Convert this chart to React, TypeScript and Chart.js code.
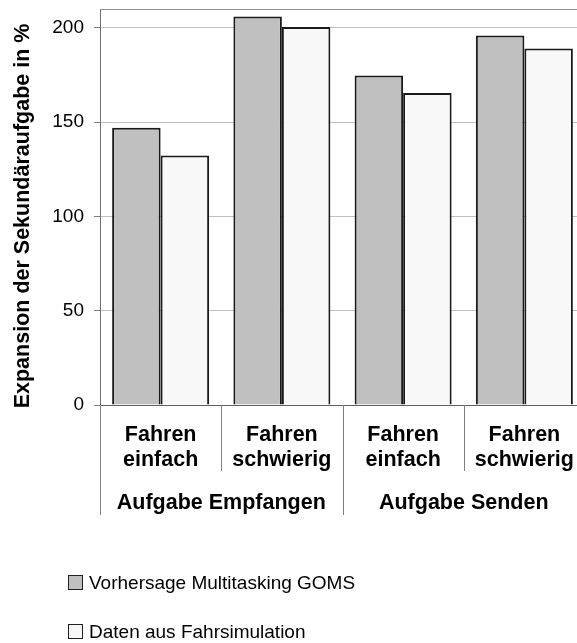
import React, { useEffect, useRef } from "react";
import { Chart, registerables } from "chart.js";

Chart.register(...registerables);

const categoryLabels: string[][] = [
  ["Fahren", "einfach"],
  ["Fahren", "schwierig"],
  ["Fahren", "einfach"],
  ["Fahren", "schwierig"],
];
const groupLabels: string[] = ["Aufgabe Empfangen", "Aufgabe Senden"];
const seriesNames: string[] = ["Vorhersage Multitasking GOMS", "Daten aus Fahrsimulation"];
const gomsValues: number[] = [147, 206, 174.7, 196];
const simValues: number[] = [132.3, 200.5, 165.5, 189];
const yTitle = "Expansion der Sekundäraufgabe in %";
const yMin = 0;
const yMax = 210;
const yStep = 50;

const FONT = "'Liberation Sans', Arial, Helvetica, sans-serif";
const GRAY_FILL = "#c0c0c0";
const WHITE_FILL = "#f8f8f8";
const BAR_BORDER = "#1a1a1a";

const decorPlugin = {
  id: "decor",
  afterDraw(chart: any) {
    const ctx = chart.ctx as CanvasRenderingContext2D;
    const area = chart.chartArea;
    const xs = chart.scales.x;
    ctx.save();
    // top border of plot area
    ctx.strokeStyle = "#8c8c8c";
    ctx.lineWidth = 1;
    ctx.beginPath();
    ctx.moveTo(area.left, Math.round(area.top) + 0.5);
    ctx.lineTo(area.right, Math.round(area.top) + 0.5);
    ctx.stroke();
    // category separators below the axis
    ctx.strokeStyle = "#808080";
    for (let i = 0; i <= categoryLabels.length; i++) {
      const px = Math.round(xs.getPixelForValue(i - 0.5)) + 0.5;
      const long = i % 2 === 0;
      ctx.beginPath();
      ctx.moveTo(px, area.bottom);
      ctx.lineTo(px, area.bottom + (long ? 110 : 66));
      ctx.stroke();
    }
    // legend
    const fills = [GRAY_FILL, WHITE_FILL];
    const boxY = [575, 624];
    ctx.font = `19px ${FONT}`;
    ctx.textAlign = "left";
    ctx.textBaseline = "alphabetic";
    seriesNames.forEach((name, i) => {
      ctx.fillStyle = fills[i];
      ctx.fillRect(68, boxY[i], 14, 14);
      ctx.strokeStyle = "#202020";
      ctx.lineWidth = 1;
      ctx.strokeRect(68.5, boxY[i] + 0.5, 14, 14);
      ctx.fillStyle = "#000";
      ctx.fillText(name, 89, boxY[i] + 13.5);
    });
    ctx.restore();
  },
};

export default function App() {
  const canvasRef = useRef<HTMLCanvasElement | null>(null);

  useEffect(() => {
    if (!canvasRef.current) return;
    const chart = new Chart(canvasRef.current, {
      type: "bar",
      data: {
        labels: categoryLabels,
        datasets: [
          {
            label: seriesNames[0],
            data: gomsValues,
            backgroundColor: GRAY_FILL,
            borderColor: BAR_BORDER,
            borderWidth: 2,
            categoryPercentage: 0.8,
            barPercentage: 1.0,
          },
          {
            label: seriesNames[1],
            data: simValues,
            backgroundColor: WHITE_FILL,
            borderColor: BAR_BORDER,
            borderWidth: 2,
            categoryPercentage: 0.8,
            barPercentage: 1.0,
          },
        ],
      },
      options: {
        animation: false,
        responsive: false,
        maintainAspectRatio: false,
        layout: { padding: { top: 9, right: 15, bottom: 0, left: 0 } },
        plugins: {
          legend: { display: false },
          tooltip: { enabled: false },
        },
        scales: {
          x: {
            type: "category",
            position: "bottom",
            offset: true,
            weight: 0,
            grid: { display: false },
            border: { display: true, color: "#606060", width: 1 },
            ticks: {
              color: "#000",
              font: { family: FONT, size: 21.5, weight: "bold", lineHeight: 1.18 },
              padding: 9,
              maxRotation: 0,
              minRotation: 0,
              autoSkip: false,
            },
            afterFit: (s: any) => {
              s.height = 72;
              s.paddingLeft = 0;
              s.paddingRight = 0;
            },
          },
          x2: {
            type: "category",
            position: "bottom",
            labels: groupLabels,
            offset: true,
            weight: 1,
            grid: { display: false },
            border: { display: false },
            ticks: {
              color: "#000",
              font: { family: FONT, size: 21.5, weight: "bold" },
              padding: 5,
              maxRotation: 0,
              minRotation: 0,
              autoSkip: false,
            },
            afterFit: (s: any) => {
              s.height = 166;
              s.paddingLeft = 0;
              s.paddingRight = 0;
            },
          },
          y: {
            type: "linear",
            min: yMin,
            max: yMax,
            grid: {
              color: "#c0c0c0",
              lineWidth: 1,
              tickLength: 6,
              tickColor: "#808080",
            },
            border: { display: true, color: "#707070", width: 1 },
            ticks: {
              stepSize: yStep,
              includeBounds: false,
              color: "#000",
              font: { family: FONT, size: 19 },
              padding: 10,
            },
            title: {
              display: true,
              text: yTitle + "   ",
              color: "#000",
              font: { family: FONT, size: 21.5, weight: "bold", lineHeight: 1.2 },
              padding: { top: 10, bottom: 0 },
            },
            afterFit: (s: any) => {
              s.width = 100;
              s.paddingTop = 0;
              s.paddingBottom = 0;
            },
          },
        },
      },
      plugins: [decorPlugin],
    });
    return () => chart.destroy();
  }, []);

  return (
    <div
      style={{
        position: "fixed",
        left: 0,
        top: 0,
        width: 577,
        height: 643,
        overflow: "hidden",
        background: "#fff",
      }}
    >
      <canvas ref={canvasRef} width={600} height={643} style={{ display: "block" }} />
    </div>
  );
}
